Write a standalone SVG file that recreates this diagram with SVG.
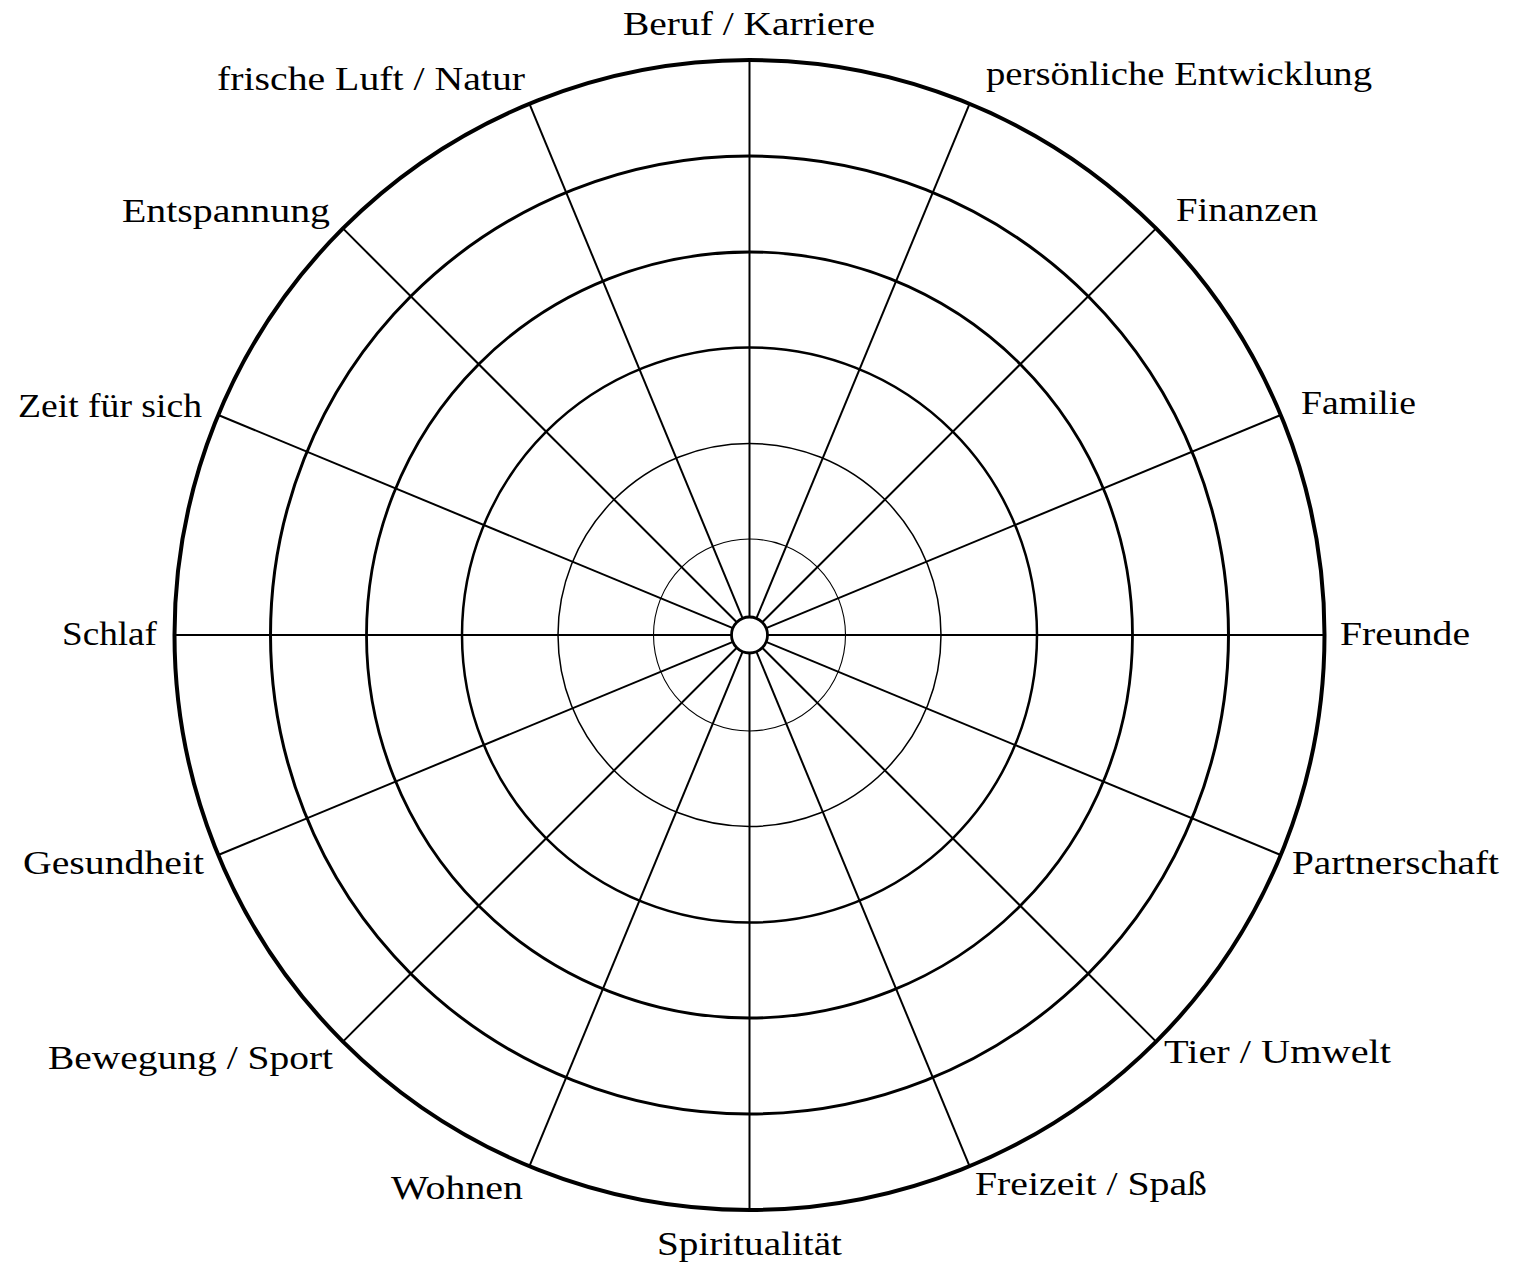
<svg xmlns="http://www.w3.org/2000/svg" width="1521" height="1266" viewBox="0 0 1521 1266">
<style>
.ring{fill:none;stroke:#000}
.spoke{stroke:#000;stroke-width:2}
.lbl{font-family:"Liberation Serif","Times New Roman",serif;font-size:33px;fill:#000}
</style>
<rect width="1521" height="1266" fill="#fff"/>
<g id="rings">
<circle class="ring" cx="749.5" cy="635" r="575" stroke-width="4"/>
<circle class="ring" cx="749.5" cy="635" r="479" stroke-width="3"/>
<circle class="ring" cx="749.5" cy="635" r="383" stroke-width="2.8"/>
<circle class="ring" cx="749.5" cy="635" r="287.5" stroke-width="2.5"/>
<circle class="ring" cx="749.5" cy="635" r="191.5" stroke-width="1.5"/>
<circle class="ring" cx="749.5" cy="635" r="96" stroke-width="1.1"/>
</g>
<g id="connectors" transform="translate(749.5 635)">
<line class="spoke" x1="18" y1="0" x2="575" y2="0" transform="rotate(0)"/>
<line class="spoke" x1="18" y1="0" x2="575" y2="0" transform="rotate(22.5)"/>
<line class="spoke" x1="18" y1="0" x2="575" y2="0" transform="rotate(45)"/>
<line class="spoke" x1="18" y1="0" x2="575" y2="0" transform="rotate(67.5)"/>
<line class="spoke" x1="18" y1="0" x2="575" y2="0" transform="rotate(90)"/>
<line class="spoke" x1="18" y1="0" x2="575" y2="0" transform="rotate(112.5)"/>
<line class="spoke" x1="18" y1="0" x2="575" y2="0" transform="rotate(135)"/>
<line class="spoke" x1="18" y1="0" x2="575" y2="0" transform="rotate(157.5)"/>
<line class="spoke" x1="18" y1="0" x2="575" y2="0" transform="rotate(180)"/>
<line class="spoke" x1="18" y1="0" x2="575" y2="0" transform="rotate(202.5)"/>
<line class="spoke" x1="18" y1="0" x2="575" y2="0" transform="rotate(225)"/>
<line class="spoke" x1="18" y1="0" x2="575" y2="0" transform="rotate(247.5)"/>
<line class="spoke" x1="18" y1="0" x2="575" y2="0" transform="rotate(270)"/>
<line class="spoke" x1="18" y1="0" x2="575" y2="0" transform="rotate(292.5)"/>
<line class="spoke" x1="18" y1="0" x2="575" y2="0" transform="rotate(315)"/>
<line class="spoke" x1="18" y1="0" x2="575" y2="0" transform="rotate(337.5)"/>
</g>
<g id="hub"><circle cx="749.5" cy="635" r="18" fill="#fff" stroke="#000" stroke-width="2.8"/></g>
<g id="labels">
<g id="n-beruf"><text class="lbl" x="623" y="35" textLength="252" lengthAdjust="spacingAndGlyphs">Beruf / Karriere</text></g>
<g id="n-entwicklung"><text class="lbl" x="986" y="85" textLength="386" lengthAdjust="spacingAndGlyphs">persönliche Entwicklung</text></g>
<g id="n-finanzen"><text class="lbl" x="1176" y="221" textLength="142" lengthAdjust="spacingAndGlyphs">Finanzen</text></g>
<g id="n-familie"><text class="lbl" x="1301" y="414" textLength="115" lengthAdjust="spacingAndGlyphs">Familie</text></g>
<g id="n-freunde"><text class="lbl" x="1340" y="645" textLength="130" lengthAdjust="spacingAndGlyphs">Freunde</text></g>
<g id="n-partnerschaft"><text class="lbl" x="1292" y="874" textLength="207" lengthAdjust="spacingAndGlyphs">Partnerschaft</text></g>
<g id="n-tier"><text class="lbl" x="1164" y="1063" textLength="227" lengthAdjust="spacingAndGlyphs">Tier / Umwelt</text></g>
<g id="n-freizeit"><text class="lbl" x="975" y="1195" textLength="232" lengthAdjust="spacingAndGlyphs">Freizeit / Spaß</text></g>
<g id="n-spiritualitaet"><text class="lbl" x="657" y="1255" textLength="185" lengthAdjust="spacingAndGlyphs">Spiritualität</text></g>
<g id="n-wohnen"><text class="lbl" x="391" y="1199" textLength="132" lengthAdjust="spacingAndGlyphs">Wohnen</text></g>
<g id="n-bewegung"><text class="lbl" x="48" y="1069" textLength="285" lengthAdjust="spacingAndGlyphs">Bewegung / Sport</text></g>
<g id="n-gesundheit"><text class="lbl" x="23" y="874" textLength="181" lengthAdjust="spacingAndGlyphs">Gesundheit</text></g>
<g id="n-schlaf"><text class="lbl" x="62" y="645" textLength="95" lengthAdjust="spacingAndGlyphs">Schlaf</text></g>
<g id="n-zeit"><text class="lbl" x="18" y="417" textLength="184" lengthAdjust="spacingAndGlyphs">Zeit für sich</text></g>
<g id="n-entspannung"><text class="lbl" x="122" y="222" textLength="208" lengthAdjust="spacingAndGlyphs">Entspannung</text></g>
<g id="n-natur"><text class="lbl" x="217" y="90" textLength="308" lengthAdjust="spacingAndGlyphs">frische Luft / Natur</text></g>
</g>
</svg>
